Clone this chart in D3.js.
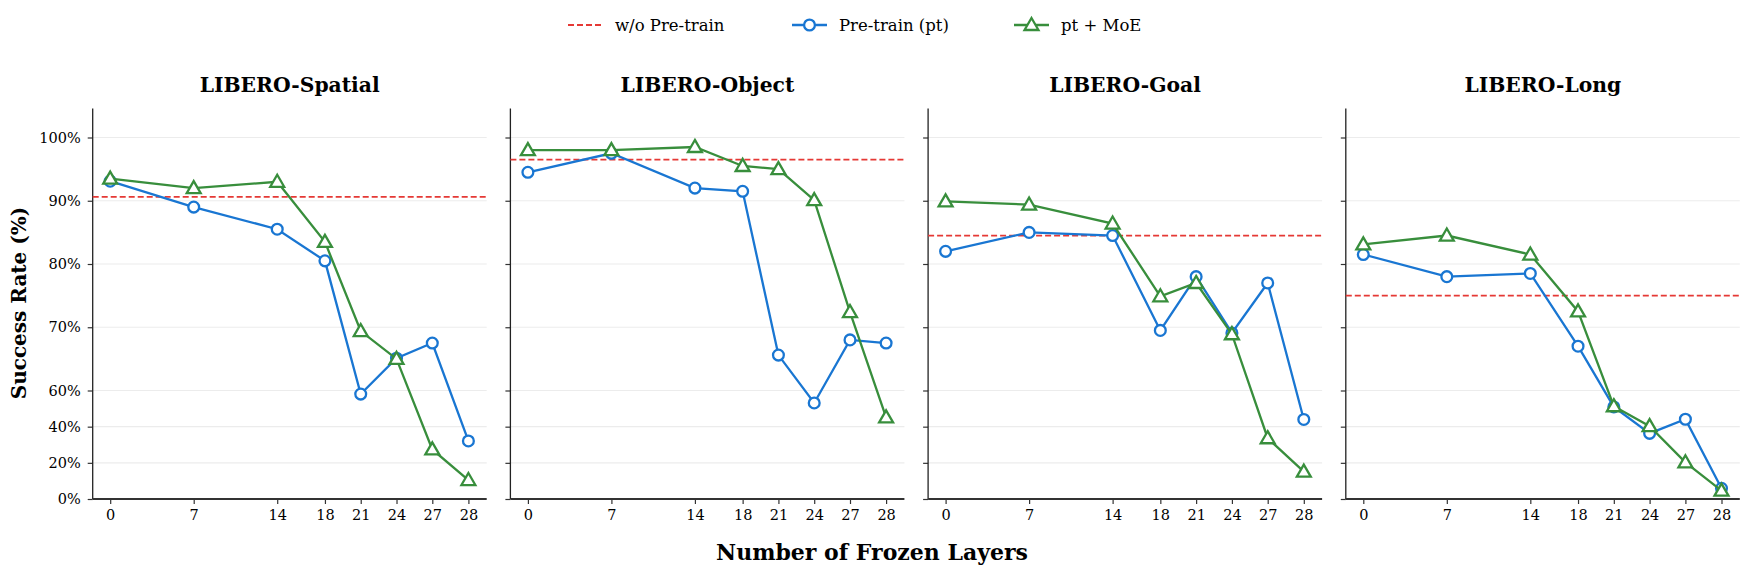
<!DOCTYPE html>
<html>
<head>
<meta charset="utf-8">
<script src="https://cdn.jsdelivr.net/npm/d3@7"></script>
<style>
  body { margin: 0; background: #fff; }
  svg { display: block; font-family: "DejaVu Serif", serif; }
</style>
</head>
<body>
<div class="chart"></div>
<script>
// data
const layers = [0, 7, 14, 18, 21, 24, 27, 28];
const tasks = ["LIBERO-Spatial", "LIBERO-Object", "LIBERO-Goal", "LIBERO-Long"];
const noPretrain = [90.6, 96.5, 84.5, 75.0];
const pretrain = [
  [93.1, 89.0, 85.5, 80.5, 58.0, 65.1, 67.5, 32.1],
  [94.5, 97.5, 92.0, 91.5, 65.6, 53.1, 68.0, 67.5],
  [82.0, 85.0, 84.5, 69.5, 78.0, 69.1, 77.0, 44.0],
  [81.5, 78.0, 78.5, 67.0, 50.9, 36.3, 44.1, 5.9]
];
const ptMoe = [
  [93.5, 92.0, 93.0, 83.5, 69.4, 65.0, 27.4, 10.5],
  [98.0, 98.0, 98.5, 95.5, 95.0, 90.1, 72.4, 45.1],
  [89.9, 89.4, 86.4, 74.9, 77.0, 68.9, 33.6, 15.1],
  [83.1, 84.5, 81.5, 72.5, 51.3, 40.3, 20.3, 4.6]
];
const yTicks = [0, 20, 40, 60, 70, 80, 90, 100];
const legendLabels = ["w/o Pre-train", "Pre-train (pt)", "pt + MoE"];

const W = 1751, H = 577;
const red = "#e53935", blue = "#1976d2", green = "#388e3c";
const panelW = 394, panelStep = 417.7, firstLeft = 92.7;

const svg = d3.select(".chart").append("svg")
  .attr("width", W).attr("height", H);

// broken scales: y is squeezed below 60%, x gives the last step extra room
const yScale = d3.scaleLinear().domain([0, 60, 100]).range([499, 390.5, 137.5]);
const yTop = 104.6;
const xScale = d3.scaleLinear().domain([0, 27, 28]).range([17.5, 339.6, 375.7]);

const line = d3.line()
  .x((d, i) => xScale(layers[i]))
  .y(d => yScale(d));

const tri = d3.symbol().type(d3.symbolTriangle).size(84);

tasks.forEach((task, p) => {
  const g = svg.append("g")
    .attr("transform", `translate(${firstLeft + p * panelStep},0)`);

  // grid
  g.selectAll(".grid").data(yTicks).join("line")
    .attr("x1", 0).attr("x2", panelW)
    .attr("y1", d => yScale(d)).attr("y2", d => yScale(d))
    .attr("stroke", "#ececec").attr("stroke-width", 1.2);

  // y axis
  const yAxis = d3.axisLeft(yScale).tickValues(yTicks).tickSize(5)
    .tickPadding(7).tickFormat(p === 0 ? (d => d + "%") : "");
  const ya = g.append("g").call(yAxis);
  ya.select(".domain").remove();
  ya.append("line").attr("x1", 0).attr("x2", 0)
    .attr("y1", yScale(0)).attr("y2", yScale(yTop))
    .attr("stroke", "#222").attr("stroke-width", 1.3);

  // x axis
  const xAxis = d3.axisBottom(xScale).tickValues(layers).tickSize(5)
    .tickPadding(6).tickFormat(d3.format("d"));
  const xa = g.append("g").attr("transform", `translate(0,${yScale(0)})`).call(xAxis);
  xa.select(".domain").remove();
  xa.append("line").attr("x1", 0).attr("x2", panelW)
    .attr("stroke", "#333").attr("stroke-width", 1.8);

  g.selectAll(".tick line").attr("stroke", "#333").attr("stroke-width", 1.2);
  g.selectAll(".tick text").attr("font-family", "DejaVu Serif")
    .attr("font-size", 14.5).attr("fill", "#000");

  // baseline without pretraining
  g.append("line")
    .attr("x1", 0).attr("x2", panelW)
    .attr("y1", yScale(noPretrain[p])).attr("y2", yScale(noPretrain[p]))
    .attr("stroke", red).attr("stroke-width", 1.8)
    .attr("stroke-dasharray", "6,3");

  // pretrain
  g.append("path").datum(pretrain[p])
    .attr("d", line).attr("fill", "none")
    .attr("stroke", blue).attr("stroke-width", 2.3);
  g.selectAll(".pt").data(pretrain[p]).join("circle")
    .attr("cx", (d, i) => xScale(layers[i])).attr("cy", d => yScale(d))
    .attr("r", 5.4).attr("fill", "#fff")
    .attr("stroke", blue).attr("stroke-width", 2.3);

  // pt + MoE
  g.append("path").datum(ptMoe[p])
    .attr("d", line).attr("fill", "none")
    .attr("stroke", green).attr("stroke-width", 2.3);
  g.selectAll(".moe").data(ptMoe[p]).join("path")
    .attr("d", tri)
    .attr("transform", (d, i) => `translate(${xScale(layers[i])},${yScale(d) + 1})`)
    .attr("fill", "#fff")
    .attr("stroke", green).attr("stroke-width", 2.3);

  g.append("text")
    .attr("x", panelW / 2).attr("y", 92)
    .attr("text-anchor", "middle")
    .attr("font-weight", "bold").attr("font-size", 20.3)
    .text(task);
});

// axis titles
svg.append("text")
  .attr("transform", "translate(26,303) rotate(-90)")
  .attr("text-anchor", "middle")
  .attr("font-weight", "bold").attr("font-size", 20)
  .text("Success Rate (%)");

svg.append("text")
  .attr("x", 872).attr("y", 560)
  .attr("text-anchor", "middle")
  .attr("font-weight", "bold").attr("font-size", 22)
  .text("Number of Frozen Layers");

// legend
const legendX = [568, 792, 1014];
const lg = svg.append("g");
legendLabels.forEach((lab, i) => {
  const x0 = legendX[i], cy = 25;
  const item = lg.append("g");
  const col = [red, blue, green][i];
  item.append("line")
    .attr("x1", x0).attr("x2", x0 + 35)
    .attr("y1", cy).attr("y2", cy)
    .attr("stroke", col).attr("stroke-width", i === 0 ? 1.8 : 2.3)
    .attr("stroke-dasharray", i === 0 ? "6,3" : null);
  if (i === 1) {
    item.append("circle").attr("cx", x0 + 17.5).attr("cy", cy).attr("r", 5.4)
      .attr("fill", "#fff").attr("stroke", col).attr("stroke-width", 2.3);
  } else if (i === 2) {
    item.append("path").attr("d", tri)
      .attr("transform", `translate(${x0 + 17.5},${cy + 1})`)
      .attr("fill", "#fff").attr("stroke", col).attr("stroke-width", 2.3);
  }
  item.append("text")
    .attr("x", x0 + 47).attr("y", cy + 5.5)
    .attr("font-size", 16.5).attr("fill", "#000")
    .text(lab);
});
</script>
</body>
</html>
